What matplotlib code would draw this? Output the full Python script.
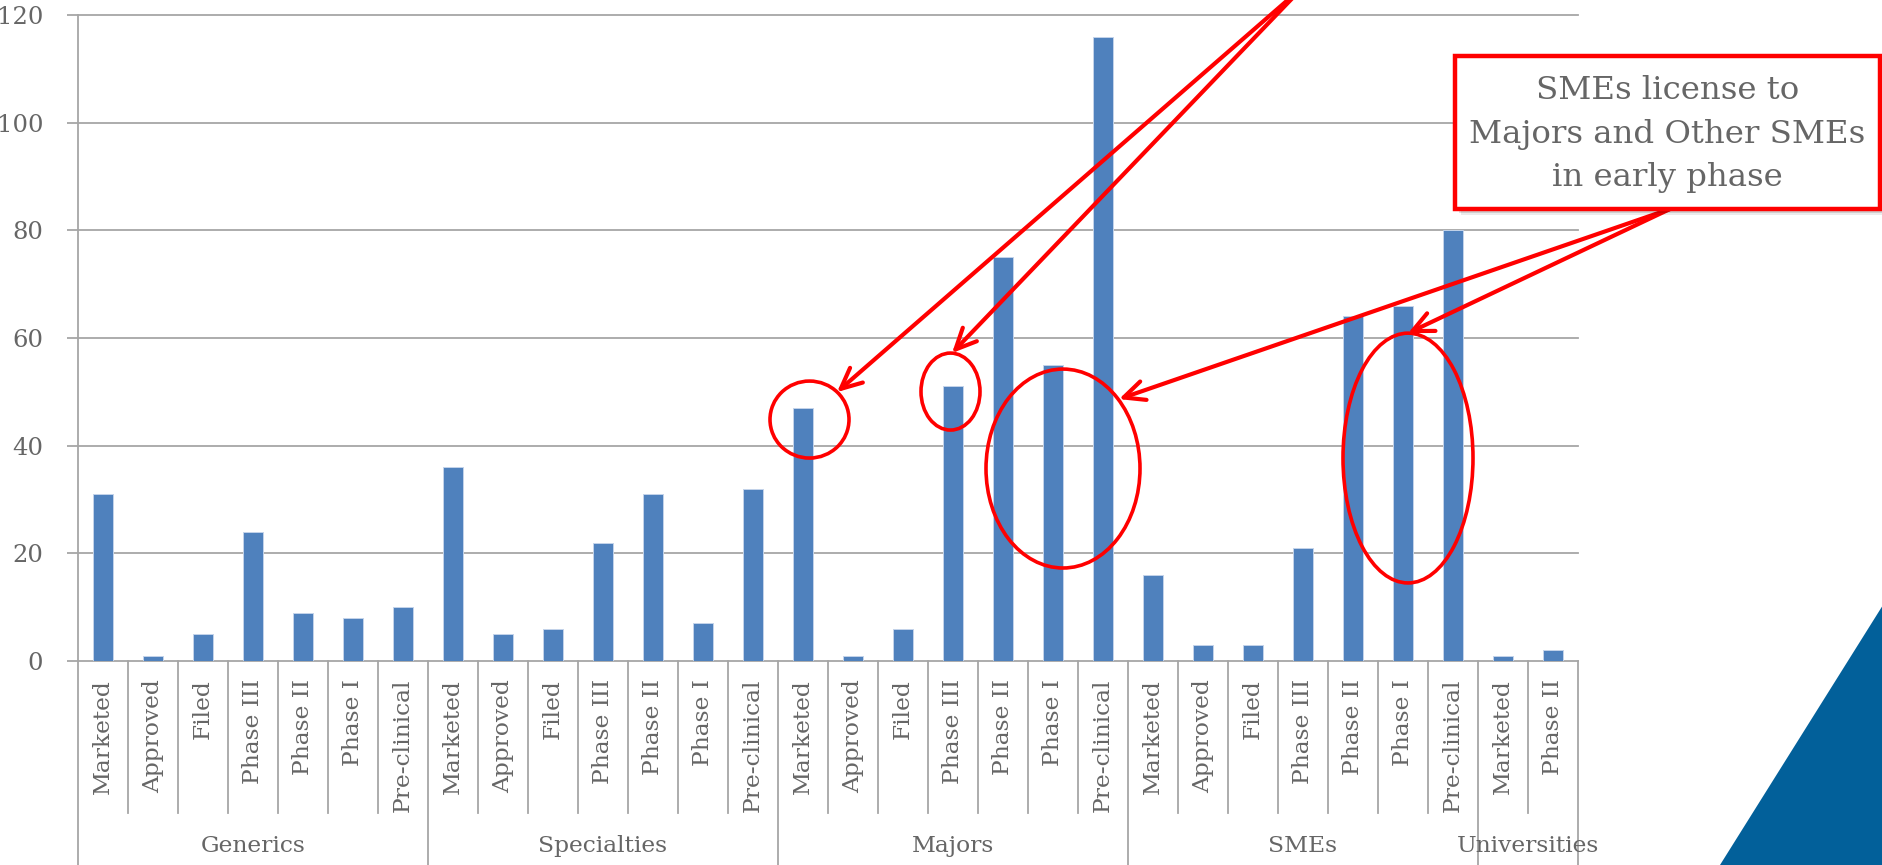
import matplotlib
matplotlib.use("Agg")
import matplotlib.pyplot as plt
from matplotlib.patches import Ellipse, Rectangle, Polygon
from matplotlib.lines import Line2D
import matplotlib.transforms as mtransforms

plt.rcParams['font.family'] = ['DejaVu Serif']

# ---- data -------------------------------------------------------------
groups = ['Generics', 'Specialties', 'Majors', 'SMEs', 'Universities']
stages_full = ['Marketed', 'Approved', 'Filed', 'Phase III', 'Phase II',
               'Phase I', 'Pre-clinical']
stages_universities = ['Marketed', 'Phase II']

generics = [31, 1, 5, 24, 9, 8, 10]
specialties = [36, 5, 6, 22, 31, 7, 32]
majors = [47, 1, 6, 51, 75, 55, 116]
smes = [16, 3, 3, 21, 64, 66, 80]
universities = [1, 2]

y_ticks = [0, 20, 40, 60, 80, 100, 120]
callout_text = "SMEs license to\nMajors and Other SMEs\nin early phase"

# ---- assemble flat series --------------------------------------------
group_values = [generics, specialties, majors, smes, universities]
group_stages = [stages_full] * 4 + [stages_universities]
values, labels, group_sizes = [], [], []
for vals, stg in zip(group_values, group_stages):
    values += vals
    labels += stg
    group_sizes.append(len(vals))
x = list(range(len(values)))

BAR = '#4F81BD'
GRID = '#A6A6A6'
TXT = '#666666'
RED = '#FF0000'
FS = 16.8

W, H = 1883, 865
fig = plt.figure(figsize=(W / 100, H / 100), dpi=100)
ax = fig.add_axes([78 / W, (H - 661) / H, 1500 / W, 646 / H])

ax.set_xlim(-0.5, len(values) - 0.5)
ax.set_ylim(0, 120)

for v in y_ticks:
    ax.axhline(v, color=GRID, lw=1.3, zorder=1, clip_on=False)

ax.bar(x, values, width=0.4, color=BAR, edgecolor='#C3D3EA', linewidth=0.7,
       zorder=3)

for s in ['top', 'right', 'bottom']:
    ax.spines[s].set_visible(False)
ax.spines['left'].set_color(GRID)
ax.spines['left'].set_linewidth(1.3)

ax.set_yticks(y_ticks)
ax.set_yticklabels([str(v) for v in y_ticks], fontsize=17.5, color=TXT)
ax.tick_params(axis='y', length=8, width=1.3, color=GRID, pad=17)
ax.set_xticks([])

# ---- multi-level category axis ---------------------------------------
trans = mtransforms.blended_transform_factory(ax.transData, ax.transAxes)
y_inner = (661 - 813) / 646
y_outer = (661 - 870) / 646
y_lab = (661 - 679) / 646
y_grp = (661 - 846) / 646

boundaries = [-0.5]
for n in group_sizes:
    boundaries.append(boundaries[-1] + n)
for b in [i - 0.5 for i in range(len(values) + 1)]:
    bottom = y_outer if b in boundaries else y_inner
    ax.add_line(Line2D([b, b], [0, bottom], transform=trans, color=GRID,
                       lw=1.3, clip_on=False))

for xi, lab in zip(x, labels):
    ax.text(xi, y_lab, lab, transform=trans, rotation=90, ha='center',
            va='top', fontsize=FS, color=TXT)

start = 0
for g, n in zip(groups, group_sizes):
    ax.text(start + (n - 1) / 2, y_grp, g, transform=trans, ha='center',
            va='center', fontsize=FS, color=TXT)
    start += n

# ---- highlight ellipses ----------------------------------------------
for (cx, cy, ew, eh) in [(14.13, 44.85, 1.58, 14.3),
                         (16.95, 50.05, 1.18, 14.3),
                         (19.2, 35.75, 3.08, 36.95),
                         (26.1, 37.7, 2.6, 46.4)]:
    ax.add_patch(Ellipse((cx, cy), ew, eh, fill=False, edgecolor=RED,
                         lw=2.6, zorder=5, clip_on=False))

# ---- arrows ------------------------------------------------------------
arrow_kw = dict(arrowstyle='->,head_length=0.75,head_width=0.35',
                color=RED, lw=3, shrinkA=0, shrinkB=0, mutation_scale=20)
for tip in [(14.68, 49.95), (16.98, 57.2)]:
    ax.annotate('', xy=tip, xycoords='data', xytext=(1305, H + 15),
                textcoords='figure pixels', arrowprops=arrow_kw,
                annotation_clip=False, zorder=6)
for tip in [(20.32, 48.65), (26.1, 60.9)]:
    ax.annotate('', xy=tip, xycoords='data', xytext=(1670, H - 209),
                textcoords='figure pixels', arrowprops=arrow_kw,
                annotation_clip=False, zorder=6)

# ---- callout box -------------------------------------------------------
bx0, bx1, by0, by1 = 1455, 1880, H - 209, H - 56
for k, a in [(6, 0.08), (4, 0.12), (2, 0.18)]:
    fig.patches.append(Rectangle(((bx0 + k) / W, (by0 - k) / H),
                                 (bx1 - bx0) / W, (by1 - by0) / H,
                                 transform=fig.transFigure, facecolor='black',
                                 edgecolor='none', alpha=a, zorder=7))
fig.patches.append(Rectangle((bx0 / W, by0 / H), (bx1 - bx0) / W,
                             (by1 - by0) / H, transform=fig.transFigure,
                             facecolor='white', edgecolor=RED, lw=3.2,
                             zorder=8))
fig.text((bx0 + bx1) / 2 / W, (H - 134) / H, callout_text, ha='center',
         va='center', fontsize=23.3, color=TXT, linespacing=1.54, zorder=9)

# ---- corner triangle ---------------------------------------------------
fig.patches.append(Polygon([(1883 / W, (H - 605) / H), (1720 / W, 0),
                            (1.0, 0), (1.0, (H - 605) / H)],
                           closed=True, transform=fig.transFigure,
                           facecolor='#02609A', edgecolor='none', zorder=0))

fig.savefig('out.png', dpi=100)
